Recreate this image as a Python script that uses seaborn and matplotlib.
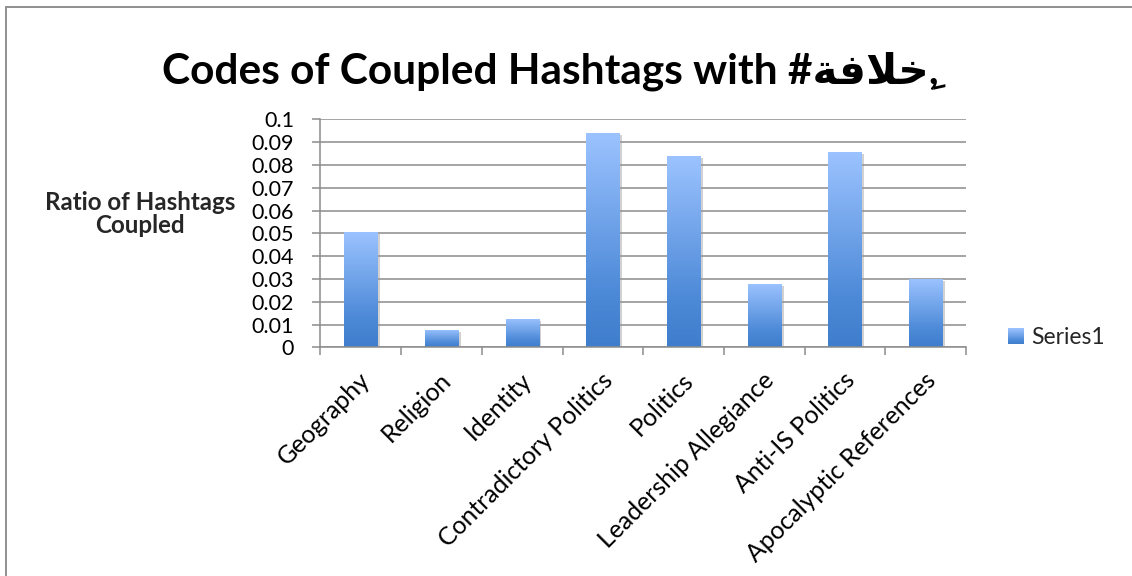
import numpy as np
import pandas as pd
import matplotlib
matplotlib.use("Agg")
import matplotlib.pyplot as plt
import matplotlib.patheffects as pe
import matplotlib.transforms as mtransforms
from matplotlib.colors import LinearSegmentedColormap
from matplotlib.patches import Rectangle, Patch
from matplotlib.legend_handler import HandlerPatch
import seaborn as sns

# ---- data -------------------------------------------------------------
categories = [
    "Geography",
    "Religion",
    "Identity",
    "Contradictory Politics",
    "Politics",
    "Leadership Allegiance",
    "Anti-IS Politics",
    "Apocalyptic References",
]
ratios = [0.0505, 0.0076, 0.0124, 0.0941, 0.0839, 0.0278, 0.0857, 0.0300]
y_ticks = [0, 0.01, 0.02, 0.03, 0.04, 0.05, 0.06, 0.07, 0.08, 0.09, 0.1]
y_tick_labels = ["0", "0.01", "0.02", "0.03", "0.04", "0.05",
                 "0.06", "0.07", "0.08", "0.09", "0.1"]
series_name = "Series1"

# Arabic word in visual (presentation-form) order: ة ف لا خِ
arabic_word = "\uFE94\uFED3\uFEFC\uFEA7\u0650"
title_text = "Codes of Coupled Hashtags with #" + arabic_word + ","

# ---- style ------------------------------------------------------------
sns.set_style("white")
plt.rcParams["font.family"] = ["Lato", "DejaVu Sans"]

grid_col = "#8C8C8C"
bar_cmap = LinearSegmentedColormap.from_list(
    "bar_grad", [(0.0, "#3F7ECD"), (0.25, "#4C89D7"), (1.0, "#9CC3FF")]
)

W, H = 1132, 576
fig = plt.figure(figsize=(W / 100, H / 100), dpi=100)
fig.patch.set_facecolor("white")

# outer frame of the chart area
fig.add_artist(Rectangle((6 / W, -0.05), 1.2, 1 - 7 / H + 0.05,
                         transform=fig.transFigure, fill=False,
                         edgecolor="#8F8F8F", linewidth=1.4))

ax = fig.add_axes([320.4 / W, 1 - 347.3 / H, 645.6 / W, 227.8 / H])

df = pd.DataFrame({"category": categories, "ratio": ratios})
sns.barplot(data=df, x="category", y="ratio", color="#6A9BE3",
            width=0.41, ax=ax, zorder=3)

ax.set_xlim(-0.5, len(categories) - 0.5)
ax.set_ylim(0, 0.1)

# gradient fill + soft shadow for each bar
grad = np.linspace(0, 1, 256).reshape(-1, 1)
for p in ax.patches:
    x0, w, h = p.get_x(), p.get_width(), p.get_height()
    p.set_path_effects([pe.SimplePatchShadow(offset=(2, -1.5),
                                             shadow_rgbFace="#9a9a9a",
                                             alpha=0.45)])
    p.set_edgecolor("none")
    im = ax.imshow(grad, cmap=bar_cmap, origin="lower", aspect="auto",
                   extent=[x0, x0 + w, 0, h], zorder=4, interpolation="bilinear")
    im.set_clip_path(p)
ax.set_xlim(-0.5, len(categories) - 0.5)
ax.set_ylim(0, 0.1)

# gridlines and spines
ax.set_yticks(y_ticks)
ax.set_yticklabels(y_tick_labels)
ax.yaxis.grid(True, color=grid_col, linewidth=1.1, zorder=0)
ax.xaxis.grid(False)
ax.set_axisbelow(True)
for s in ["top", "right"]:
    ax.spines[s].set_visible(False)
for s in ["left", "bottom"]:
    ax.spines[s].set_color(grid_col)
    ax.spines[s].set_linewidth(1.1)
    ax.spines[s].set_zorder(5)

# tick marks between categories, labels at category centres
ax.set_xticks(np.arange(-0.5, len(categories)), minor=False)
ax.set_xticklabels([""] * (len(categories) + 1))
ax.set_xticks(np.arange(len(categories)), minor=True)
ax.set_xticklabels(categories, minor=True, rotation=45, ha="right",
                   va="center", rotation_mode="anchor", fontsize=17.8,
                   color="#000000")
ax.tick_params(axis="x", which="major", direction="out", length=6,
               width=1.1, color=grid_col, bottom=True)
ax.tick_params(axis="x", which="minor", length=0, pad=21, bottom=True)
ax.tick_params(axis="y", direction="out", length=6, width=1.1,
               color=grid_col, left=True, labelsize=15.5, pad=13,
               labelcolor="#000000")

# nudge the rotated category labels slightly to the right
shift = mtransforms.ScaledTranslation(6 / 100, 0, fig.dpi_scale_trans)
for lbl in ax.get_xticklabels(minor=True):
    lbl.set_transform(lbl.get_transform() + shift)

ax.set_xlabel("")
ax.set_ylabel("Ratio of Hashtags\nCoupled", rotation=0, fontsize=17.4,
              fontweight="bold", ha="center", va="center",
              multialignment="center", linespacing=0.95)
ax.yaxis.set_label_coords((140 - 320.4) / 645.6, (347.3 - 214) / 227.8)

# title
fig.text(550 / W, 1 - 71 / H, title_text, ha="center", va="center",
         fontsize=30.5, fontweight="bold", color="#000000")


# legend with a gradient swatch
class GradientHandler(HandlerPatch):
    def create_artists(self, legend, orig_handle, xdescent, ydescent,
                       width, height, fontsize, trans):
        n = 24
        arts = []
        for i in range(n):
            c = bar_cmap(1 - (i + 0.5) / n)
            r = Rectangle((-xdescent, -ydescent + height * (n - 1 - i) / n),
                          width, height / n + 0.2, facecolor=c,
                          edgecolor="none", transform=trans)
            arts.append(r)
        return arts


handle = Patch(facecolor="#6A9BE3", label=series_name)
leg = ax.legend(handles=[handle], labels=[series_name], loc="center left",
                bbox_to_anchor=((1008 - 320.4) / 645.6, (347.3 - 338) / 227.8),
                frameon=False, fontsize=16.5, handlelength=0.68,
                handleheight=0.68, handletextpad=0.32, borderpad=0,
                borderaxespad=0, handler_map={Patch: GradientHandler()})

fig.savefig("out.png", dpi=100)
